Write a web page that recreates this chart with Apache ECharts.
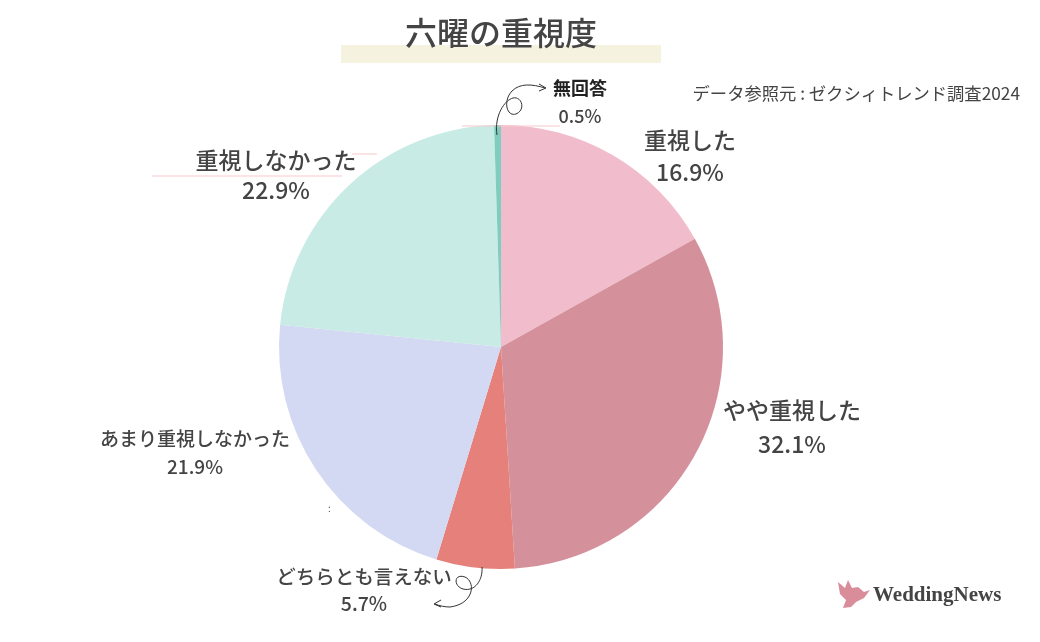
<!DOCTYPE html>
<html>
<head>
<meta charset="utf-8">
<title>六曜の重視度</title>
<script src="https://cdn.jsdelivr.net/npm/echarts@6/dist/echarts.min.js"></script>
<style>
  html, body { margin: 0; padding: 0; background: #fff; }
  #chart { width: 1040px; height: 642px; }
</style>
</head>
<body>
<div id="chart"></div>
<script>
// データ
var categories = ['重視した', 'やや重視した', 'どちらとも言えない', 'あまり重視しなかった', '重視しなかった', '無回答'];
var values = [16.9, 32.1, 5.7, 21.9, 22.9, 0.5];
var colors = ['#F1BDCD', '#D5919B', '#E5817A', '#D3D9F2', '#C8EBE6', '#7ECDBF'];

// ラベル位置 (中心x, 上端y, 文字サイズ, 行の高さ)
var labelPos = [
  [690, 124, 23, 32],
  [792, 393, 23, 34],
  [364, 563, 19.5, 27],
  [195, 425, 19, 28],
  [276, 145, 23, 30],
  [580, 74, 18, 28]
];

var chart = echarts.init(document.getElementById('chart'));
var font = '"Noto Sans CJK JP", "Noto Sans", sans-serif';

var data = categories.map(function (name, i) {
  var fs = labelPos[i][2], lh = labelPos[i][3];
  var last = name === '無回答';
  return {
    name: name,
    value: values[i],
    itemStyle: { color: colors[i] },
    label: {
      formatter: '{n|' + name + '}\n{v|' + values[i].toFixed(1) + '%}',
      rich: {
        n: { fontSize: fs, lineHeight: lh, color: last ? '#222' : '#444', fontWeight: last ? 'bold' : 500, fontFamily: font, align: 'center' },
        v: { fontSize: fs, lineHeight: lh, color: '#444', fontWeight: 500, fontFamily: font, align: 'center' }
      }
    }
  };
});

// 手書き風の矢印 (3次ベジェの連続)
function curve(pts) {
  var out = [];
  for (var i = 0; i + 3 < pts.length; i += 3) {
    out.push({
      type: 'bezierCurve',
      shape: { x1: pts[i][0], y1: pts[i][1], cpx1: pts[i + 1][0], cpy1: pts[i + 1][1],
               cpx2: pts[i + 2][0], cpy2: pts[i + 2][1], x2: pts[i + 3][0], y2: pts[i + 3][1] },
      style: { stroke: '#333', lineWidth: 1, fill: null },
      z: 4
    });
  }
  return out;
}

var arrows = [].concat(
  curve([[497, 135], [494, 115], [505, 100], [513, 98], [522, 96], [526, 110], [516, 114],
         [506, 117], [503, 100], [512, 91], [520, 83], [532, 84], [545, 88]]),
  curve([[482, 567], [483, 580], [475, 592], [463, 589], [453, 586], [454, 573], [465, 577],
         [476, 582], [474, 604], [450, 607], [445, 607], [440, 606], [435, 604]]),
  [
    { type: 'polyline', shape: { points: [[539, 84], [546, 88], [539, 91]] }, style: { stroke: '#333', lineWidth: 1, fill: null }, z: 4 },
    { type: 'polyline', shape: { points: [[441, 600], [434, 604], [441, 607]] }, style: { stroke: '#333', lineWidth: 1, fill: null }, z: 4 }
  ]
);

var option = {
  backgroundColor: '#fff',
  animation: false,
  series: [{
    type: 'pie',
    center: [501, 347],
    radius: [0, 222],
    startAngle: 90,
    clockwise: true,
    avoidLabelOverlap: false,
    itemStyle: { borderWidth: 0 },
    label: { show: true, position: 'outside', align: 'center' },
    labelLine: { show: false },
    labelLayout: function (params) {
      var p = labelPos[params.dataIndex];
      return { x: p[0], y: p[1], align: 'center', verticalAlign: 'top', hideOverlap: false };
    },
    data: data,
    z: 2
  }],
  graphic: [
    // タイトル背景
    { type: 'rect', shape: { x: 341, y: 45, width: 320, height: 18 }, style: { fill: '#F6F2E0' }, z: 1 },
    { type: 'text', x: 501, y: 17, style: { text: '六曜の重視度', fontSize: 32, fontWeight: 500, fill: '#444', fontFamily: font, align: 'center' }, z: 3 },
    // 出典
    { type: 'text', x: 1020, y: 85, style: { text: 'データ参照元 : ゼクシィトレンド調査2024', fontSize: 17.3, fill: '#444', fontFamily: font, align: 'right' }, z: 3 },
    // 薄いライン
    { type: 'line', shape: { x1: 462, y1: 126, x2: 560, y2: 126 }, style: { stroke: '#F7C9CC', lineWidth: 1 }, z: 3 },
    { type: 'line', shape: { x1: 152, y1: 176, x2: 342, y2: 176 }, style: { stroke: '#F7C9CC', lineWidth: 1 }, z: 3 },
    { type: 'line', shape: { x1: 352, y1: 154, x2: 377, y2: 154 }, style: { stroke: '#F7C9CC', lineWidth: 1 }, z: 3 },
    { type: 'text', x: 328, y: 503, style: { text: ':', fontSize: 10, fill: '#555', fontFamily: font }, z: 3 },
    // ロゴ
    { type: 'polygon', shape: { points: [[838, 582], [845, 588], [848, 580], [852, 588], [858, 587], [864, 592], [870, 590], [864, 598], [856, 602], [851, 607], [843, 608], [846, 600], [840, 594]] },
      style: { fill: '#D98C9A' }, z: 3 },
    { type: 'text', x: 873, y: 585, style: { text: 'WeddingNews', fontSize: 21, fontWeight: 'bold', fill: '#444', fontFamily: '"Liberation Serif", "DejaVu Serif", serif' }, z: 3 }
  ].concat(arrows)
};

chart.setOption(option);
</script>
</body>
</html>
